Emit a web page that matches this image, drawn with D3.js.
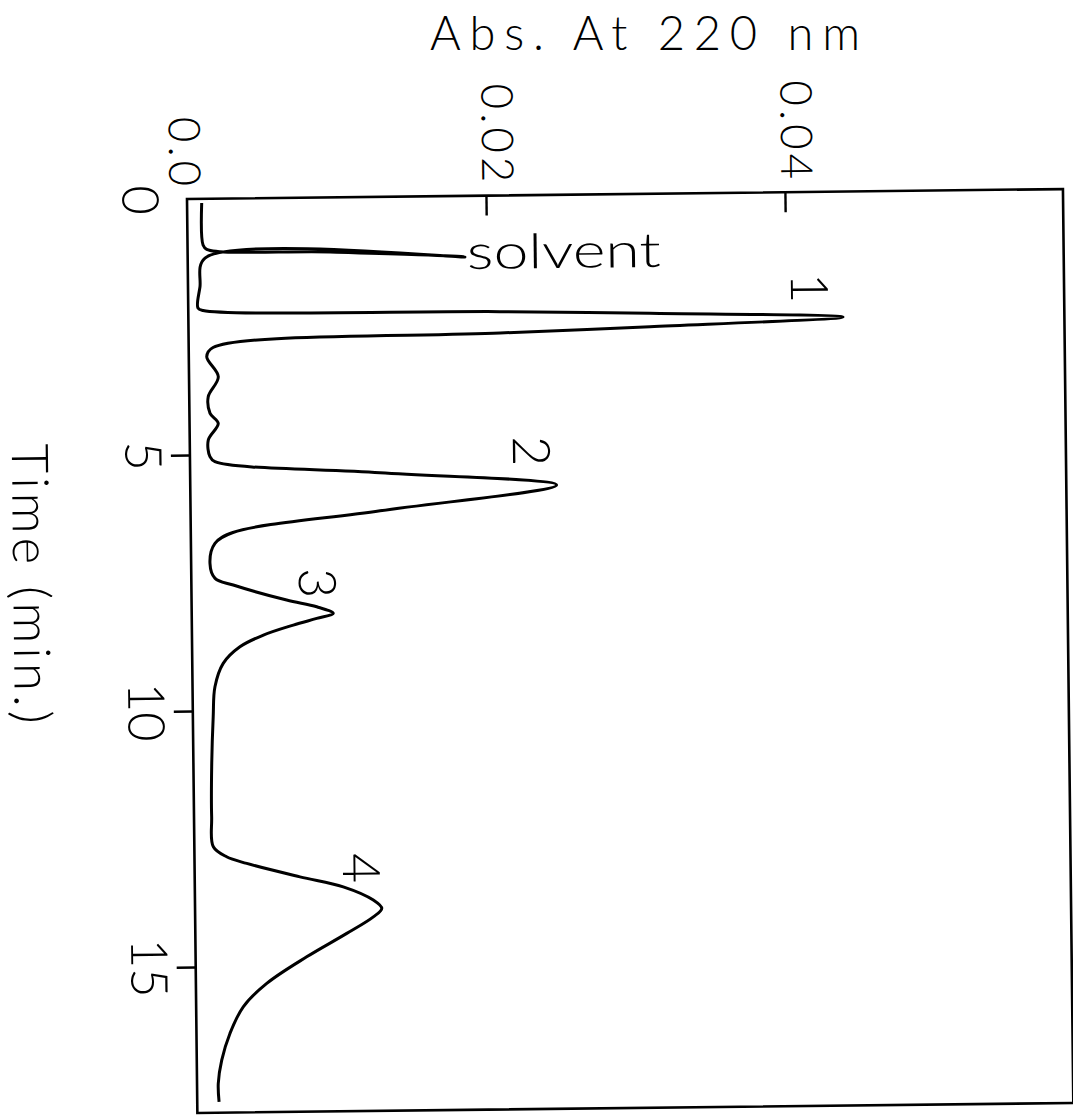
<!DOCTYPE html>
<html>
<head>
<meta charset="utf-8">
<script src="https://cdn.jsdelivr.net/npm/d3@7"></script>
<style>
  html, body { margin: 0; padding: 0; background: #fff; }
  svg { display: block; }
  text { font-family: "Lato", "DejaVu Sans", sans-serif; font-weight: 300; fill: #000; }
</style>
</head>
<body>
<svg id="chart" width="1073" height="1120"></svg>
<script>
// ---- data ----
const traceTime = [0.081, 0.902, 0.987, 1.067, 1.194, 1.157, 1.722, 2.131, 2.182, 2.269,
  2.335, 2.449, 2.597, 2.686, 2.906, 3.084, 3.478, 3.866, 4.191, 4.388,
  4.712, 5.038, 5.137, 5.389, 5.668, 6.131, 6.523, 6.731, 7.121, 7.414,
  7.549, 7.854, 7.992, 8.125, 8.219, 8.344, 8.533, 8.756, 9.076, 9.531,
  10.117, 11.093, 12.070, 12.656, 12.854, 12.988, 13.262, 13.467, 13.732, 13.897,
  14.059, 14.377, 14.826, 15.336, 15.787, 16.305, 16.824, 17.279, 17.639];
const traceAbs = [0.00098, 0.00104, 0.00128, 0.00953, 0.01855, 0.00116, 0.00080, 0.00065, 0.00099, 0.02085,
  0.03088, 0.04379, 0.03087, 0.02084, 0.00163, 0.00120, 0.00196, 0.00127, 0.00138, 0.00192,
  0.00124, 0.00134, 0.00167, 0.01270, 0.02451, 0.01268, 0.00282, 0.00161, 0.00126, 0.00159,
  0.00280, 0.00636, 0.00837, 0.00947, 0.00836, 0.00679, 0.00478, 0.00320, 0.00207, 0.00150,
  0.00136, 0.00122, 0.00118, 0.00127, 0.00215, 0.00349, 0.00704, 0.00993, 0.01193, 0.01249,
  0.01192, 0.01013, 0.00743, 0.00474, 0.00315, 0.00224, 0.00167, 0.00142, 0.00146];

const absTicks = [0, 0.02, 0.04];
const absTickLabels = ["0.0", "0.02", "0.04"];
const timeTicks = [0, 5, 10, 15];
const timeTickLabels = ["0", "5", "10", "15"];

const peakLabels = ["1", "2", "3", "4"];
const peakLabelTime = [1.877, 4.998, 7.529, 13.105];
const peakLabelAbs = [0.04167, 0.02295, 0.00853, 0.01126];

const solventLabel = "solvent";
const solventTime = 1.43;
const solventAbs = 0.01868;

const xTitle = "Abs. At 220 nm";
const yTitle = "Time (min.)";

// ---- layout ----
const W = 876, H = 914;
const svg = d3.select("#chart");
svg.append("rect").attr("width", 1073).attr("height", 1120).attr("fill", "#fff");

// title sits above the (slightly skewed) scanned frame
svg.append("text").attr("x", 430).attr("y", 50)
  .attr("font-size", 47).attr("textLength", 430).attr("lengthAdjust", "spacing")
  .text(xTitle);

const g = svg.append("g").attr("transform", "translate(187,199) rotate(-0.65)");

const x = d3.scaleLinear().domain([0, 0.0586]).range([0, W]);
const y = d3.scaleLinear().domain([0, 17.85]).range([0, H]);

// frame
g.append("rect").attr("x", 0).attr("y", 0).attr("width", W).attr("height", H)
  .attr("fill", "none").attr("stroke", "#000").attr("stroke-width", 2.6);

// top (absorbance) axis: inward ticks
const topAxis = g.append("g").call(
  d3.axisTop(x).tickValues(absTicks).tickSize(-20).tickFormat((d, i) => absTickLabels[i])
);
topAxis.select(".domain").remove();
topAxis.selectAll(".tick line").attr("stroke", "#000").attr("stroke-width", 2.4)
  .filter(d => d === 0).remove();
topAxis.selectAll(".tick text")
  .attr("y", null).attr("dy", null)
  .attr("text-anchor", "end")
  .attr("font-size", 44)
  .attr("letter-spacing", 4)
  .attr("transform", d => `translate(${d === 0 ? -18 : -4},-9) rotate(90)`);

// left (time) axis
const leftAxis = g.append("g").call(
  d3.axisLeft(y).tickValues(timeTicks).tickSize(19).tickFormat((d, i) => timeTickLabels[i])
);
leftAxis.select(".domain").remove();
leftAxis.selectAll(".tick line").attr("stroke", "#000").attr("stroke-width", 2.4)
  .filter(d => d === 0).remove();
leftAxis.selectAll(".tick text")
  .attr("x", null).attr("dy", null)
  .attr("text-anchor", "middle")
  .attr("dominant-baseline", "central")
  .attr("font-size", 51)
  .attr("transform", "translate(-45,0) rotate(90)");

// trace
const pts = traceTime.map((t, i) => [traceAbs[i], t]);
const line = d3.line().x(d => x(d[0])).y(d => y(d[1])).curve(d3.curveCatmullRom.alpha(0.5));
g.append("path").attr("d", line(pts)).attr("fill", "none")
  .attr("stroke", "#000").attr("stroke-width", 3).attr("stroke-linejoin", "round");

// peak labels
g.selectAll(".peak").data(peakLabels).enter().append("text")
  .attr("class", "peak")
  .attr("text-anchor", "middle").attr("dominant-baseline", "central")
  .attr("font-size", 52)
  .attr("transform", (d, i) => `translate(${x(peakLabelAbs[i])},${y(peakLabelTime[i])}) rotate(90)`)
  .text(d => d);

// solvent label
g.append("text").attr("x", x(solventAbs)).attr("y", y(solventTime))
  .attr("font-size", 48).attr("textLength", 194).attr("lengthAdjust", "spacingAndGlyphs")
  .text(solventLabel);

// time axis title
g.append("text")
  .attr("text-anchor", "middle")
  .attr("font-size", 51)
  .attr("textLength", 280).attr("lengthAdjust", "spacing")
  .attr("transform", `translate(-178,${y(7.48)}) rotate(90)`)
  .text(yTitle);
</script>
</body>
</html>
